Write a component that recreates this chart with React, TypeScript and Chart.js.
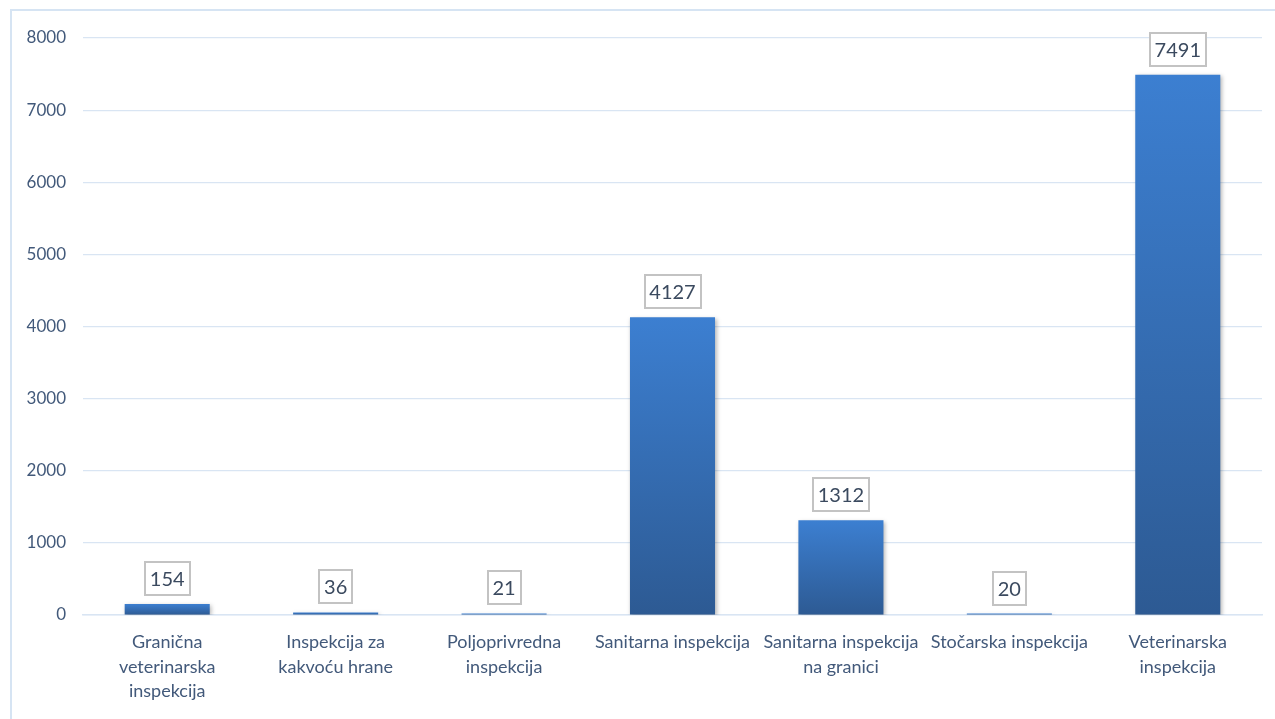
import React, { useEffect, useRef } from "react";
import { Chart, registerables } from "chart.js";

Chart.register(...registerables);

const categories: string[][] = [
  ["Granična", "veterinarska", "inspekcija"],
  ["Inspekcija za", "kakvoću hrane"],
  ["Poljoprivredna", "inspekcija"],
  ["Sanitarna inspekcija"],
  ["Sanitarna inspekcija", "na granici"],
  ["Stočarska inspekcija"],
  ["Veterinarska", "inspekcija"],
];
const values: number[] = [154, 36, 21, 4127, 1312, 20, 7491];
const yTicks: number[] = [0, 1000, 2000, 3000, 4000, 5000, 6000, 7000, 8000];

const FONT = "Lato, 'Open Sans', sans-serif";
const TEXT = "#42597a";
const GRID = "#d9e5f3";

const framePlugin = {
  id: "frame",
  beforeDraw(chart: any) {
    const ctx = chart.ctx;
    ctx.save();
    ctx.fillStyle = "#ffffff";
    ctx.fillRect(0, 0, chart.width, chart.height);
    ctx.strokeStyle = "#d6e4f3";
    ctx.lineWidth = 2;
    ctx.strokeRect(11, 10, chart.width + 20, chart.height + 20);
    ctx.restore();
  },
};

const shadowPlugin = {
  id: "barShadow",
  beforeDatasetDraw(chart: any) {
    const ctx = chart.ctx;
    ctx.save();
    ctx.shadowColor = "rgba(0,0,0,0.28)";
    ctx.shadowBlur = 4;
    ctx.shadowOffsetX = 1.5;
    ctx.shadowOffsetY = 1.5;
  },
  afterDatasetDraw(chart: any) {
    chart.ctx.restore();
  },
};

const labelPlugin = {
  id: "boxLabels",
  afterDatasetsDraw(chart: any) {
    const ctx = chart.ctx;
    const meta = chart.getDatasetMeta(0);
    ctx.save();
    ctx.font = `20px ${FONT}`;
    ctx.textAlign = "center";
    ctx.textBaseline = "middle";
    meta.data.forEach((el: any, i: number) => {
      const text = String(values[i]);
      const tw = ctx.measureText(text).width;
      const w = Math.round(tw + 12);
      const h = 35;
      const x = el.x;
      const bottom = Math.min(el.y, el.base) - 8;
      const left = Math.round(x - w / 2);
      const top = Math.round(bottom - h);
      ctx.fillStyle = "#ffffff";
      ctx.fillRect(left, top, w, h);
      ctx.strokeStyle = "#c3c3c3";
      ctx.lineWidth = 2;
      ctx.strokeRect(left + 1, top + 1, w - 2, h - 2);
      ctx.fillStyle = "#3b4a5f";
      ctx.fillText(text, x, top + h / 2 + 1);
    });
    ctx.restore();
  },
};

export default function App() {
  const ref = useRef<HTMLCanvasElement | null>(null);
  useEffect(() => {
    if (!ref.current) return;
    const chart = new Chart(ref.current, {
      type: "bar",
      data: {
        labels: categories,
        datasets: [
          {
            data: values,
            backgroundColor: (c: any) => {
              const ch = c.chart;
              const ys = ch.scales?.y;
              if (!ys || c.dataIndex === undefined) return "#3470b8";
              const top = ys.getPixelForValue(values[c.dataIndex]);
              const bottom = ys.getPixelForValue(0);
              if (!isFinite(top) || !isFinite(bottom) || bottom - top < 1) return "#3c7ed0";
              const g = ch.ctx.createLinearGradient(0, top, 0, bottom);
              g.addColorStop(0, "#3c7fd1");
              g.addColorStop(1, "#2d5a93");
              return g;
            },
            borderWidth: 0,
            barPercentage: 1,
            categoryPercentage: 0.505,
          },
        ],
      },
      options: {
        responsive: false,
        animation: false,
        maintainAspectRatio: false,
        layout: { padding: { left: 0, top: 38, right: 13, bottom: 0 } },
        plugins: {
          legend: { display: false },
          tooltip: { enabled: false },
        },
        scales: {
          x: {
            grid: { display: false, drawTicks: false },
            border: { color: GRID, width: 1.5 },
            ticks: {
              color: TEXT,
              font: { family: FONT, size: 18, lineHeight: 1.36 },
              padding: 15,
              maxRotation: 0,
              autoSkip: false,
            },
            afterFit: (s: any) => {
              s.height = 104;
            },
          },
          y: {
            min: 0,
            max: 8000,
            afterBuildTicks: (s: any) => {
              s.ticks = yTicks.map((v) => ({ value: v }));
            },
            grid: { color: GRID, lineWidth: 1.2, drawTicks: false },
            border: { display: false },
            ticks: {
              color: TEXT,
              font: { family: FONT, size: 17 },
              padding: 17,
              callback: (v: any) => String(v),
            },
            afterFit: (s: any) => {
              s.width = 83;
            },
          },
        },
      },
      plugins: [framePlugin, shadowPlugin, labelPlugin],
    });
    return () => chart.destroy();
  }, []);
  return (
    <div style={{ position: "absolute", left: 0, top: 0, width: 1275, height: 719 }}>
      <canvas ref={ref} width={1275} height={719} style={{ display: "block" }} />
    </div>
  );
}
